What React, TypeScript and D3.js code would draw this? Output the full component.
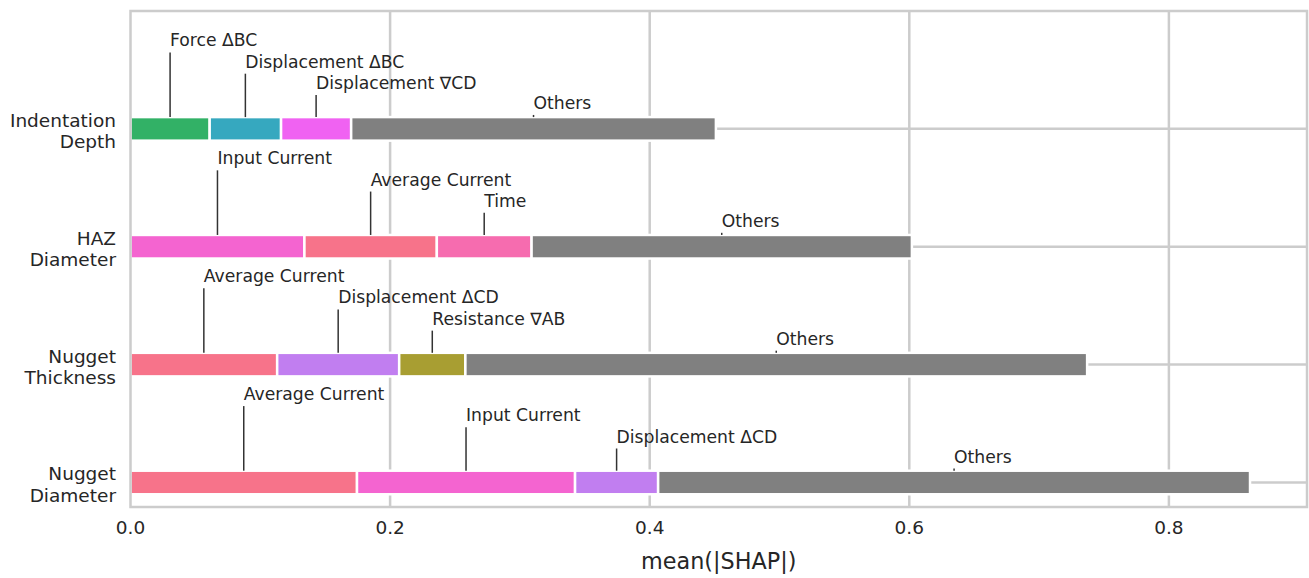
import React, { useEffect } from 'react';
import * as d3 from 'd3';

// mean(|SHAP|) stacked per output, largest contributors first, then "Others"
const categories = ['Indentation Depth', 'HAZ Diameter', 'Nugget Thickness', 'Nugget Diameter'];

const indentationFeatures = ['Force ΔBC', 'Displacement ΔBC', 'Displacement ∇CD', 'Others'];
const indentationValues   = [0.061, 0.055, 0.054, 0.281];
const indentationColors   = ['#32b166', '#36a8bf', '#f062f2', '#808080'];

const hazFeatures = ['Input Current', 'Average Current', 'Time', 'Others'];
const hazValues   = [0.134, 0.102, 0.073, 0.293];
const hazColors   = ['#f464d0', '#f7738a', '#f66caf', '#808080'];

const thicknessFeatures = ['Average Current', 'Displacement ΔCD', 'Resistance ∇AB', 'Others'];
const thicknessValues   = [0.113, 0.094, 0.051, 0.479];
const thicknessColors   = ['#f7738a', '#c17ef0', '#a89e32', '#808080'];

const diameterFeatures = ['Average Current', 'Input Current', 'Displacement ΔCD', 'Others'];
const diameterValues   = [0.1745, 0.168, 0.064, 0.456];
const diameterColors   = ['#f7738a', '#f464d0', '#c17ef0', '#808080'];

const xTicks = [0, 0.2, 0.4, 0.6, 0.8];

const rows = [
  { features: indentationFeatures, values: indentationValues, colors: indentationColors },
  { features: hazFeatures, values: hazValues, colors: hazColors },
  { features: thicknessFeatures, values: thicknessValues, colors: thicknessColors },
  { features: diameterFeatures, values: diameterValues, colors: diameterColors },
];

const W = 1309, H = 578;
const textColor = '#262626';
const gridColor = '#cccccc';
const font = '"DejaVu Sans", sans-serif';

export default function App() {
  useEffect(() => { document.body.style.margin = '0'; }, []);

  const x = d3.scaleLinear().domain([0, 0.9064]).range([130.5, 1307]);
  const y = d3.scaleLinear().domain([-1, 3.208]).range([11, 507]);
  const barH = 0.2;
  // label heights above each bar, in bar units
  const labelOffsets = [0.75, 0.57, 0.39, 0.22];

  const x0 = x.range()[0], x1 = x.range()[1];
  const y0 = y.range()[0], y1 = y.range()[1];

  return (
    <svg width={W} height={H} style={{ position: 'absolute', left: 0, top: 0, background: '#fff' }} fontFamily={font}>
      {/* grid */}
      {xTicks.slice(1).map(t => (
        <line key={'vx' + t} x1={x(t)} x2={x(t)} y1={y0} y2={y1} stroke={gridColor} strokeWidth={2.5} />
      ))}
      {categories.map((c, i) => (
        <line key={'hy' + c} x1={x0} x2={x1} y1={y(i)} y2={y(i)} stroke={gridColor} strokeWidth={2.5} />
      ))}

      {/* bars */}
      {rows.map((r, i) => {
        const ends = d3.cumsum(r.values);
        const top = y(i - barH / 2), bottom = y(i + barH / 2);
        return (
          <g key={'row' + i}>
            {r.values.map((v, j) => {
              const s = j === 0 ? 0 : ends[j - 1];
              return (
                <rect key={j} x={x(s)} y={top} width={x(s + v) - x(s)} height={bottom - top}
                  fill={r.colors[j]} stroke="#fff" strokeWidth={2.5} />
              );
            })}
            {r.values.map((v, j) => {
              const s = j === 0 ? 0 : ends[j - 1];
              const cx = x(s + v / 2);
              const ty = y(i - labelOffsets[j]);
              return (
                <g key={'lab' + j}>
                  <line x1={cx} x2={cx} y1={ty + 12} y2={top} stroke="#333" strokeWidth={1.5} />
                  <text x={cx} y={ty + 6} fontSize={17.2} fill={textColor}>{r.features[j]}</text>
                </g>
              );
            })}
          </g>
        );
      })}

      {/* frame */}
      <rect x={x0} y={y0} width={x1 - x0} height={y1 - y0} fill="none" stroke={gridColor} strokeWidth={2.5} />

      {/* y labels */}
      {categories.map((c, i) => {
        const parts = c.split(' ');
        return (
          <text key={'yl' + c} x={116} y={y(i) - 2} textAnchor="end" fontSize={18.5} fill={textColor}>
            <tspan x={116}>{parts[0]}</tspan>
            <tspan x={116} dy={21.5}>{parts[1]}</tspan>
          </text>
        );
      })}

      {/* x ticks */}
      {xTicks.map(t => (
        <text key={'xt' + t} x={x(t)} y={534} textAnchor="middle" fontSize={18.5} fill={textColor}>
          {d3.format('.1f')(t)}
        </text>
      ))}
      <text x={(x0 + x1) / 2} y={569} textAnchor="middle" fontSize={22.3} fill={textColor}>mean(|SHAP|)</text>
    </svg>
  );
}
